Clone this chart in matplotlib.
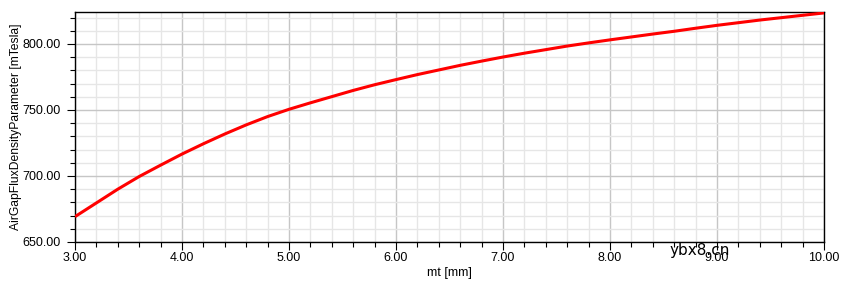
import matplotlib
matplotlib.use("Agg")
import matplotlib.pyplot as plt
from matplotlib.ticker import MultipleLocator, FormatStrFormatter

mt = [3.0, 3.2, 3.4, 3.6, 3.8, 4.0, 4.2, 4.4, 4.6, 4.8, 5.0, 5.2, 5.4, 5.6, 5.8,
      6.0, 6.2, 6.4, 6.6, 6.8, 7.0, 7.2, 7.4, 7.6, 7.8, 8.0, 8.2, 8.4, 8.6, 8.8,
      9.0, 9.2, 9.4, 9.6, 9.8, 10.0]
flux = [669.2, 679.6, 690.0, 699.6, 708.2, 716.6, 724.4, 731.8, 738.7, 745.0, 750.5, 755.4, 760.1, 764.8, 769.1,
        773.0, 776.8, 780.3, 783.8, 787.0, 790.1, 793.0, 795.7, 798.4, 800.8, 803.1, 805.3, 807.5, 809.6, 811.9,
        814.1, 816.1, 818.1, 819.9, 821.7, 823.5]

plt.rcParams['font.family'] = ['Liberation Sans', 'DejaVu Sans']
fig = plt.figure(figsize=(8.47, 2.82), dpi=100)
ax = fig.add_axes([75/847, 1 - 242/282, (824-75)/847, (242-12)/282])

ax.plot(mt, flux, color='#ff0000', lw=2.2, solid_capstyle='butt', zorder=3)

ax.set_xlim(3, 10)
ax.set_ylim(650, 824.2)
ax.xaxis.set_major_locator(MultipleLocator(1))
ax.xaxis.set_minor_locator(MultipleLocator(0.2))
ax.yaxis.set_major_locator(MultipleLocator(50))
ax.yaxis.set_minor_locator(MultipleLocator(10))
ax.xaxis.set_major_formatter(FormatStrFormatter('%.2f'))
ax.yaxis.set_major_formatter(FormatStrFormatter('%.2f'))

ax.grid(which='major', color='#c6c6c6', lw=1.0, zorder=1)
ax.grid(which='minor', color='#e6e6e6', lw=1.0, zorder=0)
ax.set_axisbelow(True)

ax.tick_params(which='major', direction='out', length=6, width=0.8, labelsize=9, colors='black')
ax.tick_params(which='minor', direction='out', length=3.5, width=0.8)
ax.tick_params(axis='x', which='major', pad=1.5)
ax.tick_params(axis='y', which='major', pad=4.5)
for s in ax.spines.values():
    s.set_color('black')
    s.set_linewidth(1.0)

ax.set_xlabel('mt [mm]', fontsize=9, labelpad=2)
ax.set_ylabel('AirGapFluxDensityParameter [mTesla]', fontsize=8.7, labelpad=0)

fig.text(700/847, 1 - 251/282, 'ybx8.cn', fontsize=11, ha='center', va='center',
         color='black', family=['DejaVu Sans'])

fig.savefig('out.png', dpi=100)
